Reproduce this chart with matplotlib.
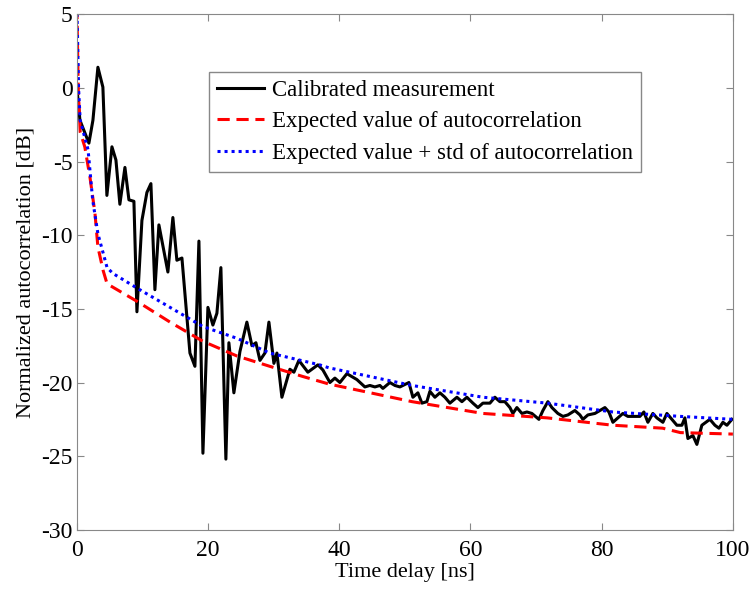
import matplotlib

matplotlib.use("Agg")
import matplotlib.pyplot as plt

t_meas = [0, 0.46, 1.83, 2.44, 3.20, 3.96, 4.57, 5.34, 5.95, 6.55, 7.32, 7.93,
          8.69, 9.15, 9.91, 10.67, 11.28, 11.89, 12.50, 13.87, 14.63, 15.24,
          16.01, 17.23, 17.99, 18.60, 19.21, 19.97, 20.73, 21.34, 21.95, 22.71,
          23.17, 23.93, 24.85, 25.91, 26.68, 27.29, 27.90, 28.66, 29.27, 30.03,
          30.49, 31.25, 32.47, 33.08, 33.84, 35.21, 36.74, 37.50, 38.57, 39.33,
          40.09, 41.16, 42.68, 43.90, 44.66, 45.43, 46.19, 46.65, 47.71, 48.48,
          49.24, 50.61, 51.22, 51.98, 52.59, 53.35, 53.81, 54.57, 55.34, 56.10,
          56.86, 57.93, 58.69, 59.45, 60.37, 61.13, 61.89, 62.96, 63.72, 64.48,
          65.24, 66.01, 66.46, 67.07, 67.84, 68.60, 69.36, 70.43, 71.04, 71.80,
          72.41, 73.32, 74.09, 74.85, 75.91, 76.68, 77.13, 77.90, 78.96, 80.49,
          81.10, 81.71, 82.47, 83.23, 83.99, 85.82, 86.43, 87.04, 87.80, 88.41,
          89.33, 89.94, 90.70, 91.46, 92.23, 92.68, 93.14, 93.90, 94.51, 95.27,
          95.88, 96.49, 97.26, 97.87, 98.48, 99.09, 99.85]
v_meas = [0.0, -2.2, -3.75, -2.2, 1.4, 0.05, -7.3, -4.0, -4.9, -7.9, -5.4, -7.6,
          -7.7, -15.2, -9.0, -7.1, -6.5, -13.7, -9.3, -12.5, -8.8, -11.7,
          -11.55, -18.0, -18.9, -10.4, -24.8, -14.9, -16.1, -15.3, -12.2, -25.2,
          -17.3, -20.7, -17.9, -15.9, -17.5, -17.3, -18.5, -18.0, -15.9, -18.7,
          -18.0, -21.0, -19.1, -19.3, -18.5, -19.3, -18.8, -19.15, -20.0, -19.7,
          -20.0, -19.4, -19.8, -20.3, -20.2, -20.3, -20.2, -20.4, -20.0, -20.2,
          -20.3, -20.0, -21.0, -20.7, -21.4, -21.3, -20.6, -21.0, -20.7, -21.0,
          -21.4, -21.0, -21.3, -21.0, -21.4, -21.7, -21.4, -21.4, -21.0, -21.3,
          -21.3, -21.7, -22.1, -21.7, -22.1, -22.0, -22.1, -22.5, -21.9, -21.3,
          -21.7, -22.1, -22.3, -22.2, -21.9, -22.2, -22.5, -22.2, -22.1, -21.7,
          -22.0, -22.7, -22.4, -22.1, -22.3, -22.3, -22.0, -22.7, -22.1, -22.4,
          -22.7, -22.1, -22.5, -22.9, -22.9, -22.4, -23.8, -23.6, -24.2, -22.9,
          -22.7, -22.5, -22.9, -23.1, -22.7, -22.9, -22.5]

# expected value of autocorrelation
t_exp = [0, 0.2, 0.5, 1.2, 2.0, 2.75, 3.2, 4.0, 4.6, 9.2, 14.2, 19.2, 24.4,
         29.4, 34.5, 38.4, 51.1, 61.9, 71.7, 81.7, 89.3, 92.0, 100]
v_exp = [5.5, 0.0, -3.0, -4.0, -6.1, -8.5, -10.8, -12.4, -13.3, -14.5, -15.9,
         -17.2, -18.2, -18.9, -19.6, -20.1, -21.3, -22.1, -22.4, -22.9, -23.1,
         -23.4, -23.5]

# expected value + std
t_std = [0, 0.25, 0.5, 1.7, 2.4, 3.2, 4.6, 5.5, 9.2, 14.2, 19.2, 24.4, 29.4,
         37.0, 38.4, 51.1, 61.9, 71.7, 81.7, 92.0, 100]
v_std = [5.5, 0.0, -2.2, -4.2, -7.6, -9.9, -12.2, -12.6, -13.6, -14.9, -16.2,
         -17.0, -18.0, -18.8, -19.0, -20.2, -21.0, -21.4, -22.0, -22.3, -22.5]

plt.rcParams["font.family"] = ["Liberation Serif", "DejaVu Serif"]
plt.rcParams["axes.unicode_minus"] = False

fig = plt.figure(figsize=(7.54, 5.92), dpi=100)
ax = fig.add_axes([0.102, 0.105, 0.870, 0.871])

ax.plot(t_meas, v_meas, color="black", lw=2.2, label="Calibrated measurement")
ax.plot(t_exp, v_exp, color="red", lw=2.2, ls=(0, (4, 2.2)),
        label="Expected value of autocorrelation")
ax.plot(t_std, v_std, color="blue", lw=2.2, ls=(0, (1, 1.3)),
        label="Expected value + std of autocorrelation")

ax.set_xlim(0, 100)
ax.set_ylim(-30, 5)
ax.set_xticks(range(0, 101, 20))
ax.set_yticks(range(-30, 6, 5))
ax.tick_params(direction="in", top=True, right=True, labelsize=17,
               color="#888888", length=5)
ax.tick_params(axis="x", pad=7)
ax.tick_params(axis="y", pad=3)
for s in ax.spines.values():
    s.set_color("#888888")
ax.set_xlabel("Time delay [ns]", fontsize=16, labelpad=2)
ax.set_ylabel("Normalized autocorrelation [dB]", fontsize=16, labelpad=4)

leg = ax.legend(loc="upper left", bbox_to_anchor=(0.201, 0.888),
                borderaxespad=0, fontsize=16.5, fancybox=False,
                handlelength=2.05, framealpha=1, borderpad=0.35,
                labelspacing=0.45, handletextpad=0.35)
leg.get_frame().set_edgecolor("#888888")

fig.savefig("out.png", dpi=100)
